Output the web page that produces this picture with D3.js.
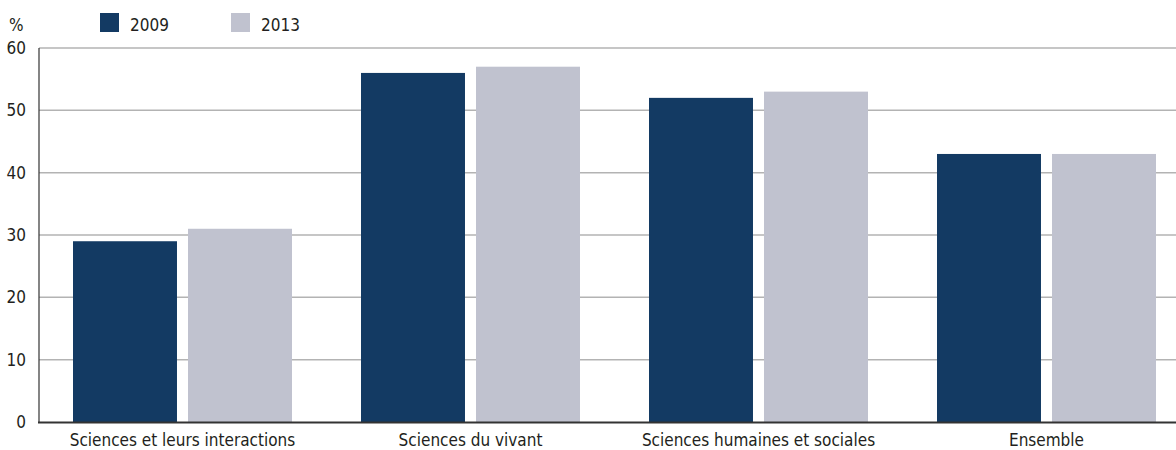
<!DOCTYPE html>
<html><head><meta charset="utf-8">
<script src="https://cdn.jsdelivr.net/npm/d3@7"></script>
<style>body{margin:0;background:#fff}svg{display:block}text{font-family:"Liberation Sans Narrow","DejaVu Sans Condensed",sans-serif;fill:#231f20}</style>
</head><body><svg id="c" width="1176" height="450"></svg>
<script>
const categories = ["Sciences et leurs interactions","Sciences du vivant","Sciences humaines et sociales","Ensemble"];
const series = ["2009","2013"];
const values2009 = [29,56,52,43];
const values2013 = [31,57,53,43];
const yTicks = [0,10,20,30,40,50,60];
const colors = ["#133a63","#c0c2cf"];

const svg = d3.select("#c");
const y = d3.scaleLinear().domain([0,60]).range([422,48]);
const x0 = d3.scaleBand().domain(categories).range([38.5,1190.5]).paddingInner(0.2396).paddingOuter(0.1198);
const x1 = d3.scaleBand().domain(series).range([0,x0.bandwidth()]).paddingInner(0.0959);

// gridlines
svg.append("g").selectAll("line").data(yTicks.filter(d=>d>0)).join("line")
  .attr("x1",39).attr("x2",1176).attr("y1",d=>y(d)).attr("y2",d=>y(d))
  .attr("stroke","#b3b3b3").attr("stroke-width",1.5);

const data = categories.map((c,i)=>({c, v:[values2009[i],values2013[i]]}));
svg.append("g").selectAll("g").data(data).join("g")
  .attr("transform",d=>`translate(${x0(d.c)},0)`)
  .selectAll("rect").data(d=>d.v.map((v,j)=>({s:series[j],v,j}))).join("rect")
  .attr("x",d=>x1(d.s)).attr("width",x1.bandwidth())
  .attr("y",d=>y(d.v)).attr("height",d=>y(0)-y(d.v)).attr("fill",d=>colors[d.j]);

// axes lines
svg.append("line").attr("x1",39).attr("x2",39).attr("y1",48).attr("y2",423).attr("stroke","#333").attr("stroke-width",1.2);
svg.append("line").attr("x1",38).attr("x2",1176).attr("y1",422.5).attr("y2",422.5).attr("stroke","#333").attr("stroke-width",2);

// y tick labels
svg.append("g").selectAll("text").data(yTicks).join("text")
  .attr("x",26).attr("y",d=>y(d)+6).attr("text-anchor","end").attr("font-size",17).text(d=>d);
svg.append("text").attr("x",9).attr("y",31).attr("font-size",17).text("%");

// x labels
svg.append("g").selectAll("text").data(categories).join("text")
  .attr("x",d=>x0(d)+x0.bandwidth()/2).attr("y",446).attr("text-anchor","middle").attr("font-size",17).text(d=>d);

// legend
const lx=[100,231];
series.forEach((s,i)=>{
  svg.append("rect").attr("x",lx[i]).attr("y",13).attr("width",19).attr("height",19).attr("fill",colors[i]);
  svg.append("text").attr("x",lx[i]+30).attr("y",31).attr("font-size",17).text(s);
});
</script></body></html>
